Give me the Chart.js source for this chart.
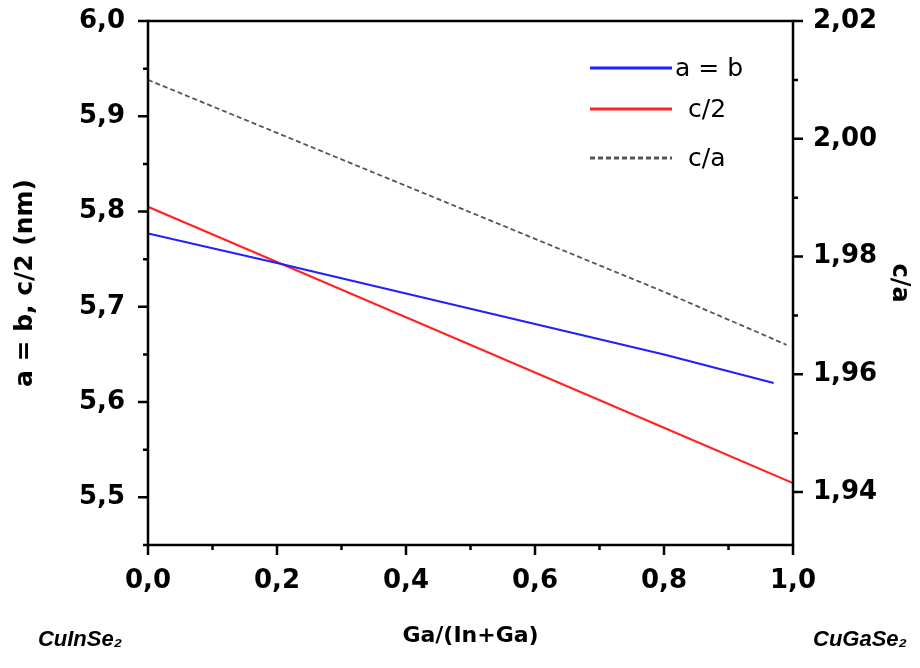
<!DOCTYPE html>
<html>
<head>
  <script src="https://cdn.jsdelivr.net/npm/chart.js"></script>
  <style>
    body { margin: 0; background: #fff; }
    #wrap { width: 920px; height: 668px; position: relative; }
  </style>
</head>
<body>
  <div id="wrap"><canvas id="latticeChart"></canvas></div>

  <script>
    // Ga/(In+Ga) composition and values
    var abX = [0, 0.2, 0.4, 0.6, 0.8, 0.97];
    var abVal = [5.777, 5.746, 5.714, 5.682, 5.650, 5.620];
    var c2X = [0, 0.2, 0.4, 0.6, 0.8, 1.0];
    var c2Val = [5.805, 5.747, 5.689, 5.631, 5.573, 5.515];
    var caX = [0, 0.2, 0.4, 0.6, 0.8, 0.99];
    var caVal = [2.010, 2.001, 1.992, 1.983, 1.974, 1.965];

    // tick labels
    var xTickValues = [0, 0.2, 0.4, 0.6, 0.8, 1.0];
    var xTickLabels = ['0,0', '0,2', '0,4', '0,6', '0,8', '1,0'];
    var leftTickValues = [5.5, 5.6, 5.7, 5.8, 5.9, 6.0];
    var leftTickLabels = ['5,5', '5,6', '5,7', '5,8', '5,9', '6,0'];
    var rightTickValues = [1.94, 1.96, 1.98, 2.00, 2.02];
    var rightTickLabels = ['1,94', '1,96', '1,98', '2,00', '2,02'];

    function pts(xs, ys) {
      return xs.map(function(x, i) { return { x: x, y: ys[i] }; });
    }

    var tickFont = { family: 'DejaVu Sans', size: 26, weight: 'bold' };

    // frame, tick marks, in-plot legend and compound names
    var decorPlugin = {
      id: 'decor',
      afterDraw: function(chart) {
        var ctx = chart.ctx;
        var a = chart.chartArea;
        var sx = chart.scales.x, sy = chart.scales.y, sy1 = chart.scales.y1;
        ctx.save();
        ctx.strokeStyle = '#000';
        ctx.lineWidth = 2.5;
        ctx.strokeRect(a.left, a.top, a.right - a.left, a.bottom - a.top);

        ctx.beginPath();
        // bottom ticks
        for (var t = 0; t <= 10; t++) {
          var px = sx.getPixelForValue(t / 10);
          ctx.moveTo(px, a.bottom);
          ctx.lineTo(px, a.bottom + (t % 2 === 0 ? 10 : 5));
        }
        // left ticks
        for (var j = 0; j <= 11; j++) {
          var v = 5.45 + j * 0.05;
          var py = sy.getPixelForValue(v);
          ctx.moveTo(a.left, py);
          ctx.lineTo(a.left - (j % 2 === 1 ? 10 : 5), py);
        }
        // right ticks
        for (var k = 0; k <= 8; k++) {
          var py1 = sy1.getPixelForValue(1.94 + k * 0.01);
          ctx.moveTo(a.right, py1);
          ctx.lineTo(a.right + (k % 2 === 0 ? 10 : 5), py1);
        }
        ctx.stroke();

        // legend inside plot
        var lx0 = a.right - 203, lx1 = a.right - 121;
        var textX = [a.right - 118, a.right - 105, a.right - 105];
        var rows = [a.top + 47, a.top + 88, a.top + 137];
        ctx.font = '25px "DejaVu Sans"';
        ctx.textAlign = 'left';
        ctx.textBaseline = 'middle';
        chart.data.datasets.forEach(function(ds, i) {
          ctx.beginPath();
          ctx.strokeStyle = ds.borderColor;
          ctx.lineWidth = 3;
          ctx.setLineDash(ds.borderDash || []);
          ctx.moveTo(lx0, rows[i]);
          ctx.lineTo(lx1, rows[i]);
          ctx.stroke();
          ctx.setLineDash([]);
          ctx.fillStyle = '#000';
          ctx.fillText(ds.label, textX[i], rows[i] + 1);
        });

        // end-member compounds under the axis
        ctx.font = 'italic bold 22px "Liberation Sans"';
        ctx.textAlign = 'center';
        ctx.fillText('CuInSe\u2082', 80, 640);
        ctx.fillText('CuGaSe\u2082', 860, 640);
        ctx.restore();
      }
    };

    new Chart(document.getElementById('latticeChart'), {
      type: 'line',
      data: {
        datasets: [{
          label: 'a = b',
          data: pts(abX, abVal),
          borderColor: '#1f1fff',
          borderWidth: 2.2,
          yAxisID: 'y'
        }, {
          label: 'c/2',
          data: pts(c2X, c2Val),
          borderColor: '#ff2424',
          borderWidth: 2.2,
          yAxisID: 'y'
        }, {
          label: 'c/a',
          data: pts(caX, caVal),
          borderColor: '#555555',
          borderWidth: 1.8,
          borderDash: [5, 3],
          yAxisID: 'y1'
        }]
      },
      options: {
        responsive: true,
        maintainAspectRatio: false,
        animation: false,
        layout: { padding: { top: 21, left: 0, right: 0, bottom: 0 } },
        elements: { point: { radius: 0 }, line: { tension: 0 } },
        plugins: {
          legend: { display: false },
          tooltip: { enabled: false }
        },
        scales: {
          x: {
            type: 'linear',
            min: 0,
            max: 1,
            grid: { display: false },
            border: { display: false },
            afterBuildTicks: function(s) { s.ticks = xTickValues.map(function(v) { return { value: v }; }); },
            afterFit: function(s) { s.height = 123; s.paddingLeft = 0; s.paddingRight = 0; },
            ticks: {
              autoSkip: false,
              maxRotation: 0,
              padding: 13,
              color: '#000',
              font: tickFont,
              callback: function(v, i) { return xTickLabels[i]; }
            },
            title: {
              display: true,
              text: 'Ga/(In+Ga)',
              color: '#000',
              font: { family: 'DejaVu Sans', size: 22, weight: 'bold' },
              padding: { top: 0, bottom: 19 }
            }
          },
          y: {
            position: 'left',
            min: 5.45,
            max: 6.0,
            grid: { display: false },
            border: { display: false },
            afterBuildTicks: function(s) { s.ticks = leftTickValues.map(function(v) { return { value: v }; }); },
            afterFit: function(s) { s.width = 148; s.paddingTop = 0; s.paddingBottom = 0; },
            ticks: {
              padding: 15,
              color: '#000',
              font: tickFont,
              callback: function(v, i) { return leftTickLabels[i]; }
            },
            title: {
              display: true,
              text: 'a = b, c/2 (nm)',
              color: '#000',
              font: { family: 'DejaVu Sans', size: 25, weight: 'bold' },
              padding: { top: 10, bottom: 0 }
            }
          },
          y1: {
            position: 'right',
            min: 1.931,
            max: 2.02,
            grid: { display: false },
            border: { display: false },
            afterBuildTicks: function(s) { s.ticks = rightTickValues.map(function(v) { return { value: v }; }); },
            afterFit: function(s) { s.width = 127; s.paddingTop = 0; s.paddingBottom = 0; },
            ticks: {
              padding: 12,
              color: '#000',
              font: tickFont,
              callback: function(v, i) { return rightTickLabels[i]; }
            },
            title: {
              display: true,
              text: 'c/a',
              color: '#000',
              font: { family: 'DejaVu Sans', size: 24, weight: 'bold' },
              padding: { top: 6, bottom: 0 }
            }
          }
        }
      },
      plugins: [decorPlugin]
    });
  </script>
</body>
</html>
